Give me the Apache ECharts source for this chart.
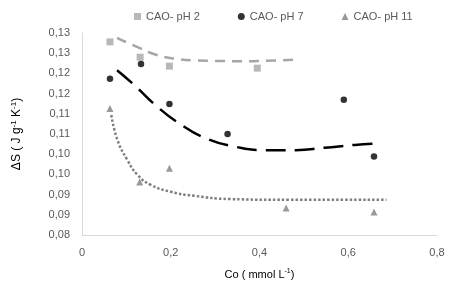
<!DOCTYPE html>
<html>
<head>
<meta charset="utf-8">
<script src="https://cdn.jsdelivr.net/npm/echarts@6/dist/echarts.min.js"></script>
<style>
  html, body { margin: 0; padding: 0; background: #fff; }
  #chart { width: 449px; height: 289px; }
</style>
</head>
<body>
<div id="chart"></div>
<script>
// measured points, [Co, dS]
const ph2Points = [[0.063, 0.1278], [0.131, 0.1240], [0.197, 0.1218], [0.395, 0.1213]];
const ph7Points = [[0.063, 0.1187], [0.133, 0.1223], [0.197, 0.1124], [0.328, 0.1050], [0.590, 0.1135], [0.658, 0.0994]];
const ph11Points = [[0.063, 0.1113], [0.130, 0.0931], [0.197, 0.0965], [0.460, 0.0867], [0.658, 0.0857]];

// trend lines
const ph2Trend = [[0.079, 0.1288], [0.129, 0.1263], [0.167, 0.1246], [0.212, 0.1236], [0.253, 0.1232], [0.298, 0.1231], [0.355, 0.1230], [0.411, 0.1231], [0.479, 0.1234]];
const ph7Trend = [[0.079, 0.1208], [0.118, 0.1171], [0.167, 0.1120], [0.221, 0.1075], [0.280, 0.1039], [0.343, 0.1019], [0.411, 0.1010], [0.481, 0.1010], [0.547, 0.1016], [0.615, 0.1023], [0.671, 0.1027]];
const ph11Trend = [[0.066, 0.1097], [0.080, 0.1035], [0.102, 0.0986], [0.125, 0.0949], [0.155, 0.0924], [0.200, 0.0907], [0.253, 0.0897], [0.332, 0.0889], [0.468, 0.0887], [0.686, 0.0887]];

const seriesNames = ["CAO- pH 2", "CAO- pH 7", "CAO- pH 11"];
const yTickLabels = ["0,08", "0,09", "0,09", "0,10", "0,10", "0,11", "0,11", "0,12", "0,12", "0,13", "0,13"];
const xTickLabels = ["0", "0,2", "0,4", "0,6", "0,8"];

const chart = echarts.init(document.getElementById("chart"));
const font = "Liberation Sans";

chart.setOption({
  backgroundColor: "#fff",
  animation: false,
  textStyle: { fontFamily: font },
  legend: {
    data: [
      { name: seriesNames[0], icon: "rect" },
      { name: seriesNames[1], icon: "circle" },
      { name: seriesNames[2], icon: "triangle" },
    ],
    top: 6,
    left: 129,
    itemWidth: 7,
    itemHeight: 7,
    itemGap: 38,
    textStyle: { color: "#595959", fontSize: 11, fontFamily: font },
  },
  grid: {
    left: 82,
    right: 12,
    top: 33,
    bottom: 54,
  },
  xAxis: {
    type: "value",
    min: 0,
    max: 0.8,
    interval: 0.2,
    name: "{a|Co ( mmol L}{sup|-1}{a|)}",
    nameLocation: "middle",
    nameGap: 33,
    nameTextStyle: {
      rich: {
        a: { fontSize: 11, color: "#000", fontFamily: font },
        sup: { fontSize: 7, color: "#000", fontFamily: font, padding: [0, 0, 6, 0] },
      },
    },
    axisLine: { show: true, lineStyle: { color: "#d9d9d9", width: 1 } },
    axisTick: { show: false },
    splitLine: { show: false },
    axisLabel: {
      color: "#595959",
      fontSize: 11,
      margin: 12,
      formatter: (v, i) => xTickLabels[i],
    },
  },
  yAxis: {
    type: "value",
    min: 0.08,
    max: 0.13,
    interval: 0.005,
    name: "{a|ΔS ( J g}{sup|-1}{a| K}{sup|-1}{a|)}",
    nameLocation: "middle",
    nameGap: 58,
    nameRotate: 90,
    nameTextStyle: {
      rich: {
        a: { fontSize: 12, color: "#000", fontFamily: font },
        sup: { fontSize: 8, color: "#000", fontFamily: font, padding: [0, 0, 6, 0] },
      },
    },
    axisLine: { show: true, lineStyle: { color: "#d9d9d9", width: 1 } },
    axisTick: { show: false },
    splitLine: { show: false },
    axisLabel: {
      color: "#595959",
      fontSize: 11,
      margin: 12,
      formatter: (v, i) => yTickLabels[i],
    },
  },
  series: [
    {
      name: seriesNames[0],
      type: "scatter",
      symbol: "rect",
      symbolSize: 7,
      data: ph2Points,
      itemStyle: { color: "#a6a6a6" },
      z: 3,
    },
    {
      name: seriesNames[1],
      type: "scatter",
      symbol: "circle",
      symbolSize: 6.5,
      data: ph7Points,
      itemStyle: { color: "#000" },
      z: 3,
    },
    {
      name: seriesNames[2],
      type: "scatter",
      symbol: "triangle",
      symbolSize: 7,
      data: ph11Points,
      itemStyle: { color: "#7f7f7f" },
      z: 3,
    },
    {
      name: "trend2",
      type: "line",
      smooth: true,
      showSymbol: false,
      data: ph2Trend,
      lineStyle: { color: "#a6a6a6", width: 2.5, type: [10, 7] },
      z: 2,
    },
    {
      name: "trend7",
      type: "line",
      smooth: true,
      showSymbol: false,
      data: ph7Trend,
      lineStyle: { color: "#000", width: 2.5, type: [20, 9] },
      z: 2,
    },
    {
      name: "trend11",
      type: "line",
      smooth: true,
      showSymbol: false,
      data: ph11Trend,
      lineStyle: { color: "#7f7f7f", width: 2.5, type: [2.5, 2] },
      z: 2,
    },
  ],
});
</script>
</body>
</html>
